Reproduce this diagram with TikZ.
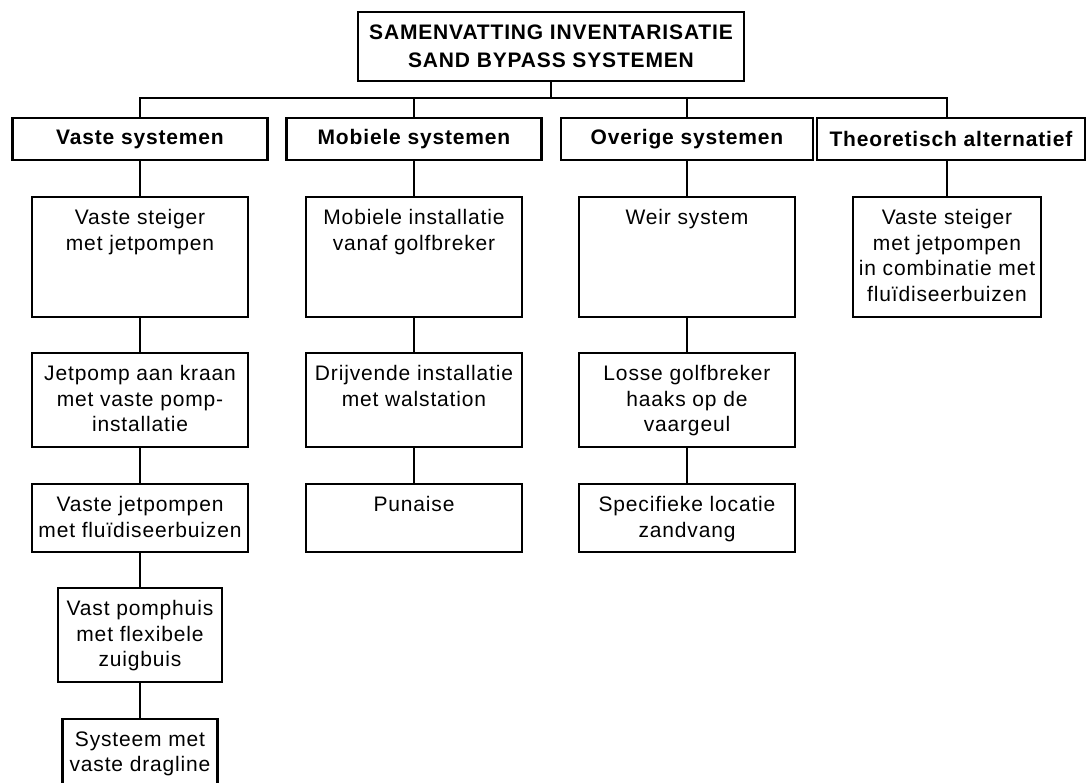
\documentclass[tikz,border=0pt]{standalone}
\usepackage{fontspec}
\setmainfont{Liberation Sans}
\newfontfamily\bodyfont[LetterSpace=4]{Liberation Sans}
\newfontfamily\headfont[LetterSpace=4]{Liberation Sans Bold}
\begin{document}
\begin{tikzpicture}[x=1pt,y=-1pt,
  box/.style={draw, line width=2.2pt, rectangle, inner sep=0pt},
  head/.style={box, align=center, font=\headfont\fontsize{21}{27.5}\selectfont},
  lbl/.style={inner sep=0pt, align=center, anchor=north, font=\bodyfont\fontsize{21}{25.5}\selectfont},
  link/.style={line width=2.2pt}]
\useasboundingbox (0,0) rectangle (1090,783);
% title
\node[head, minimum width=386pt, minimum height=69pt] (title) at (551,46.5)
  {SAMENVATTING INVENTARISATIE\\SAND BYPASS SYSTEMEN};
\coordinate (bus) at (551,98);
% headings
\node[head, minimum width=255pt, minimum height=42pt] (h1) at (140,139) {Vaste systemen};
\node[head, minimum width=255pt, minimum height=42pt] (h2) at (414,139) {Mobiele systemen};
\node[head, minimum width=252pt, minimum height=42pt] (h3) at (687,139) {Overige systemen};
\node[head, minimum width=268pt, minimum height=42pt] (h4) at (951,139) {Theoretisch alternatief};
% level 2
\node[box, minimum width=216pt, minimum height=120pt] (a1) at (140,257) {};
\node[box, minimum width=216pt, minimum height=120pt] (b1) at (414,257) {};
\node[box, minimum width=216pt, minimum height=120pt] (c1) at (687,257) {};
\node[box, minimum width=188pt, minimum height=120pt] (d1) at (947,257) {};
% level 3
\node[box, minimum width=216pt, minimum height=94pt] (a2) at (140,400) {};
\node[box, minimum width=216pt, minimum height=94pt] (b2) at (414,400) {};
\node[box, minimum width=216pt, minimum height=94pt] (c2) at (687,400) {};
% level 4
\node[box, minimum width=216pt, minimum height=68pt] (a3) at (140,518) {};
\node[box, minimum width=216pt, minimum height=68pt] (b3) at (414,518) {};
\node[box, minimum width=216pt, minimum height=68pt] (c3) at (687,518) {};
% level 5, 6
\node[box, minimum width=164pt, minimum height=94pt] (a4) at (140,635) {};
\node[box, minimum width=155pt, minimum height=66pt] (a5) at (140,752) {};
% texts
\node[lbl] (ta1) at ([yshift=-13.5pt]a1.north) {Vaste steiger\\met jetpompen};
\node[lbl] (tb1) at ([yshift=-13.5pt]b1.north) {Mobiele installatie\\vanaf golfbreker};
\node[lbl] (tc1) at ([yshift=-13.5pt]c1.north) {Weir system};
\node[lbl] (td1) at ([yshift=-13.5pt]d1.north) {Vaste steiger\\met jetpompen\\in combinatie met\\fluïdiseerbuizen};
\node[lbl] (ta2) at ([yshift=-13.5pt]a2.north) {Jetpomp aan kraan\\met vaste pomp-\\installatie};
\node[lbl] (tb2) at ([yshift=-13.5pt]b2.north) {Drijvende installatie\\met walstation};
\node[lbl] (tc2) at ([yshift=-13.5pt]c2.north) {Losse golfbreker\\haaks op de\\vaargeul};
\node[lbl] (ta3) at ([yshift=-13.5pt]a3.north) {Vaste jetpompen\\met fluïdiseerbuizen};
\node[lbl] (tb3) at ([yshift=-13.5pt]b3.north) {Punaise};
\node[lbl] (tc3) at ([yshift=-13.5pt]c3.north) {Specifieke locatie\\zandvang};
\node[lbl] (ta4) at ([yshift=-13.5pt]a4.north) {Vast pomphuis\\met flexibele\\zuigbuis};
\node[lbl] (ta5) at ([yshift=-13.5pt]a5.north) {Systeem met\\vaste dragline};
% connectors
\draw[link] (title.south) -- (bus);
\draw[link] (h1.north) |- (bus) -| (d1.north |- h4.north);
\draw[link] (h2.north) -- (h2.north |- bus);
\draw[link] (h3.north) -- (h3.north |- bus);
\draw[link] (h1.south) -- (a1.north);
\draw[link] (h2.south) -- (b1.north);
\draw[link] (h3.south) -- (c1.north);
\draw[link] (d1.north |- h4.south) -- (d1.north);
\draw[link] (a1.south) -- (a2.north);
\draw[link] (a2.south) -- (a3.north);
\draw[link] (a3.south) -- (a4.north);
\draw[link] (a4.south) -- (a5.north);
\draw[link] (b1.south) -- (b2.north);
\draw[link] (b2.south) -- (b3.north);
\draw[link] (c1.south) -- (c2.north);
\draw[link] (c2.south) -- (c3.north);
\end{tikzpicture}
\end{document}
